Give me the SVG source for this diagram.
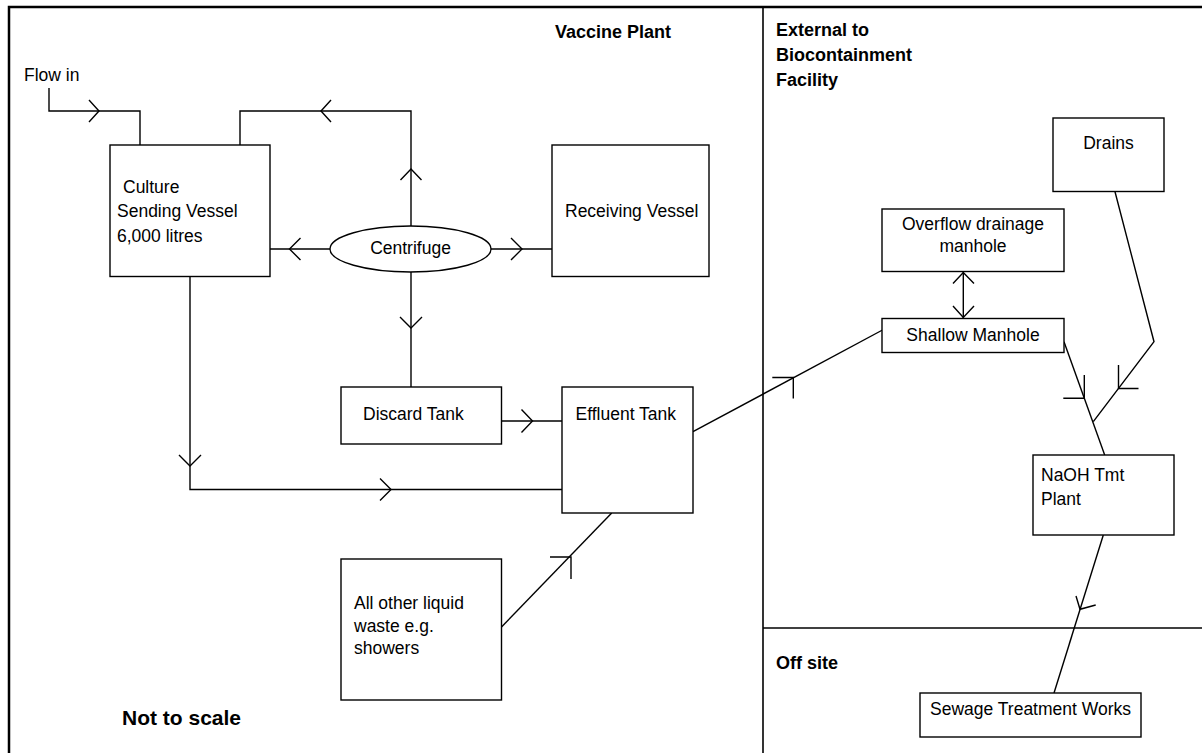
<svg xmlns="http://www.w3.org/2000/svg" width="1202" height="753" viewBox="0 0 1202 753">
<style>
.box{fill:#fff;stroke:#000;stroke-width:1.4}
.ln{fill:none;stroke:#000;stroke-width:1.4}
.ah{fill:none;stroke:#000;stroke-width:1.4}
.frame{fill:none;stroke:#000;stroke-width:2.5}
.div{fill:none;stroke:#000;stroke-width:1.6}
text{font-family:"Liberation Sans",Arial,sans-serif;font-size:17.5px;fill:#000}
.b{font-weight:bold;font-size:18px}
.big{font-size:21px}
.c{text-anchor:middle}
</style>
<g id="frame">
<rect class="frame" x="9" y="7" width="1200" height="760"/>
<line class="div" x1="763" y1="7" x2="763" y2="753"/>
<line class="div" x1="763" y1="628" x2="1202" y2="628"/>
<text class="b" x="555" y="38">Vaccine Plant</text>
<text class="b" x="776" y="36">External to</text>
<text class="b" x="776" y="61">Biocontainment</text>
<text class="b" x="776" y="86">Facility</text>
<text class="b" x="776" y="669">Off site</text>
<text class="b big" x="122" y="725">Not to scale</text>
<text x="24" y="81">Flow in</text>
</g>
<g id="connectors">
<polyline class="ln" points="49,88 49,111 140,111 140,145"/>
<polyline class="ah" points="89,100 99,111 89,122"/>
<polyline class="ln" points="240,145 240,111 411,111 411,226"/>
<polyline class="ah" points="331,100 321,111 331,122"/>
<polyline class="ah" points="400.5,180 411,169 421.5,180"/>
<line class="ln" x1="270" y1="249" x2="330" y2="249"/>
<polyline class="ah" points="300.5,238 289.5,249 300.5,260"/>
<line class="ln" x1="491" y1="249" x2="552" y2="249"/>
<polyline class="ah" points="511,238 522,249 511,260"/>
<line class="ln" x1="411" y1="272" x2="411" y2="387"/>
<polyline class="ah" points="400,317 411,328 422,317"/>
<line class="ln" x1="501.5" y1="421" x2="562" y2="421"/>
<polyline class="ah" points="521.5,409.5 532.5,421 521.5,432.5"/>
<polyline class="ln" points="190,276 190,489.5 562,489.5"/>
<polyline class="ah" points="179,455 190,466 201,455"/>
<polyline class="ah" points="380,478.5 391,489.5 380,500.5"/>
<line class="ln" x1="501.5" y1="627" x2="611.7" y2="513"/>
<polyline class="ah" points="550,557 571,557 571,579"/>
<line class="ln" x1="693" y1="431.7" x2="882.5" y2="330"/>
<polyline class="ah" points="772.3,377.5 793.3,377.5 793.3,398.5"/>
<line class="ln" x1="963.3" y1="272" x2="963.3" y2="318"/>
<polyline class="ah" points="953,283.5 963.3,272.5 974,283.5"/>
<polyline class="ah" points="953,306 963.3,317.5 974,306"/>
<line class="ln" x1="1064" y1="341.7" x2="1104.7" y2="455"/>
<polyline class="ah" points="1084.3,375 1084.3,398.3 1063.3,398.3"/>
<polyline class="ln" points="1115,191.7 1154,341.7 1093.3,421.7"/>
<polyline class="ah" points="1118.5,365 1118.5,388.5 1138.5,388.5"/>
<line class="ln" x1="1103.3" y1="535" x2="1054" y2="693"/>
<polyline class="ah" points="1076,596 1080,609.3 1095.7,605"/>
</g>
<g id="culture">
<rect class="box" x="110" y="145" width="160" height="131.5"/>
<text x="123" y="192.5">Culture</text>
<text x="117" y="217">Sending Vessel</text>
<text x="117" y="241.5">6,000 litres</text>
</g>
<g id="receiving">
<rect class="box" x="552" y="145" width="157" height="131.5"/>
<text x="565" y="217">Receiving Vessel</text>
</g>
<g id="centrifuge">
<ellipse class="box" cx="410.5" cy="249" rx="80.5" ry="23"/>
<text class="c" x="410.5" y="254">Centrifuge</text>
</g>
<g id="discard">
<rect class="box" x="341" y="387" width="160.5" height="57"/>
<text x="363" y="419.5">Discard Tank</text>
</g>
<g id="effluent">
<rect class="box" x="562" y="387" width="131" height="126"/>
<text x="575.5" y="419.5">Effluent Tank</text>
</g>
<g id="other-waste">
<rect class="box" x="341" y="559" width="160.5" height="141"/>
<text x="354" y="608.5">All other liquid</text>
<text x="354" y="631.5">waste e.g.</text>
<text x="354" y="653.5">showers</text>
</g>
<g id="overflow">
<rect class="box" x="882" y="209" width="182" height="62.5"/>
<text class="c" x="973" y="229.5">Overflow drainage</text>
<text class="c" x="973" y="252">manhole</text>
</g>
<g id="shallow">
<rect class="box" x="882" y="318.5" width="182" height="34"/>
<text class="c" x="973" y="340.5">Shallow Manhole</text>
</g>
<g id="drains">
<rect class="box" x="1053" y="118" width="111" height="73.5"/>
<text class="c" x="1108.5" y="149">Drains</text>
</g>
<g id="naoh">
<rect class="box" x="1033" y="455" width="141" height="80"/>
<text x="1041" y="481">NaOH Tmt</text>
<text x="1041" y="505">Plant</text>
</g>
<g id="sewage">
<rect class="box" x="920" y="693" width="221" height="44"/>
<text x="930" y="715">Sewage Treatment Works</text>
</g>
</svg>
